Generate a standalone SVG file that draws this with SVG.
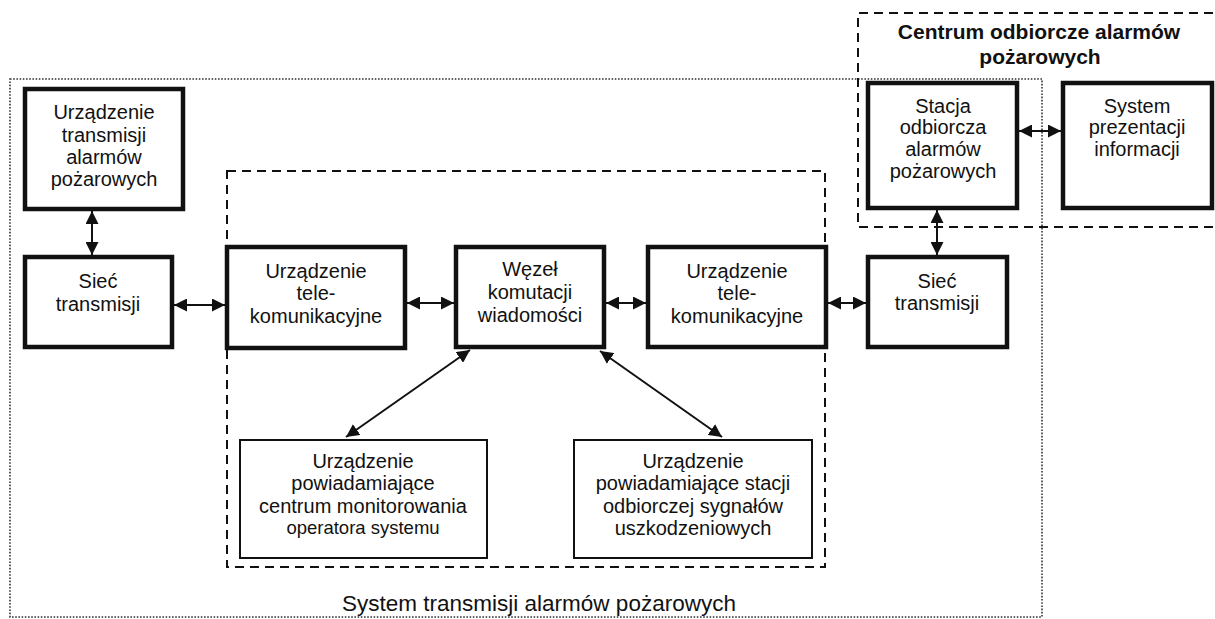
<svg xmlns="http://www.w3.org/2000/svg" width="1215" height="619" viewBox="0 0 1215 619">
<defs>
<style>
.heavy{fill:#fff;stroke:#111;stroke-width:4.5}
.light{fill:#fff;stroke:#111;stroke-width:2}
.t{font-family:"Liberation Sans",Arial,sans-serif;font-size:20px;fill:#111;text-anchor:middle}
.ts{font-size:18.5px}
.tb{font-weight:bold;font-size:21px}
.tl{font-size:22.5px}
.dash{fill:none;stroke:#111;stroke-width:2;stroke-dasharray:9 6}
.dot{fill:none;stroke:#333;stroke-width:1.6;stroke-dasharray:1.6 1.6}
.conn{stroke:#111;stroke-width:2;fill:none;marker-start:url(#ah);marker-end:url(#ah)}
</style>
<marker id="ah" viewBox="0 0 10 10" refX="10" refY="5" markerUnits="userSpaceOnUse" markerWidth="13" markerHeight="13" orient="auto-start-reverse">
<path d="M0,0 L10,5 L0,10 z" fill="#111"/>
</marker>
</defs>
<rect width="1215" height="619" fill="#fff"/>

<g id="frames">
<rect class="dot" x="10" y="79" width="1032" height="538"/>
<rect class="dash" x="227" y="171" width="598" height="396"/>
<path class="dash" d="M1213,13 H858 V227 H1213"/>
</g>

<g id="connectors">
<line class="conn" x1="92" y1="211" x2="92" y2="255"/>
<line class="conn" x1="174" y1="305" x2="225" y2="305"/>
<line class="conn" x1="407" y1="303" x2="454" y2="303"/>
<line class="conn" x1="606" y1="303" x2="646" y2="303"/>
<line class="conn" x1="828" y1="303" x2="866" y2="303"/>
<line class="conn" x1="937" y1="210" x2="937" y2="255"/>
<line class="conn" x1="1019" y1="131" x2="1061" y2="131"/>
<line class="conn" x1="470" y1="350" x2="346" y2="437"/>
<line class="conn" x1="600" y1="351" x2="722" y2="437"/>
</g>

<g id="n-uta">
<rect class="heavy" x="25" y="89" width="158" height="120"/>
<text class="t" x="104" y="119">Urządzenie</text>
<text class="t" x="104" y="142">transmisji</text>
<text class="t" x="104" y="164">alarmów</text>
<text class="t" x="104" y="186">pożarowych</text>
</g>

<g id="n-siec1">
<rect class="heavy" x="25" y="257" width="147" height="90"/>
<text class="t" x="98" y="288">Sieć</text>
<text class="t" x="98" y="311">transmisji</text>
</g>

<g id="n-tele1">
<rect class="heavy" x="227" y="247" width="178" height="101"/>
<text class="t" x="316" y="278">Urządzenie</text>
<text class="t" x="316" y="300">tele-</text>
<text class="t" x="316" y="323">komunikacyjne</text>
</g>

<g id="n-wezel">
<rect class="heavy" x="456" y="247" width="148" height="100"/>
<text class="t" x="530" y="276">Węzeł</text>
<text class="t" x="530" y="299">komutacji</text>
<text class="t" x="530" y="322">wiadomości</text>
</g>

<g id="n-tele2">
<rect class="heavy" x="648" y="247" width="178" height="100"/>
<text class="t" x="737" y="278">Urządzenie</text>
<text class="t" x="737" y="300">tele-</text>
<text class="t" x="737" y="323">komunikacyjne</text>
</g>

<g id="n-siec2">
<rect class="heavy" x="868" y="257" width="139" height="90"/>
<text class="t" x="937" y="288">Sieć</text>
<text class="t" x="937" y="310">transmisji</text>
</g>

<g id="n-stacja">
<rect class="heavy" x="868" y="83" width="149" height="125"/>
<text class="t" x="943" y="113">Stacja</text>
<text class="t" x="943" y="134">odbiorcza</text>
<text class="t" x="943" y="156">alarmów</text>
<text class="t" x="943" y="178">pożarowych</text>
</g>

<g id="n-system">
<rect class="heavy" x="1063" y="83" width="149" height="125"/>
<text class="t" x="1137" y="113">System</text>
<text class="t" x="1137" y="134">prezentacji</text>
<text class="t" x="1137" y="156">informacji</text>
</g>

<g id="n-pow1">
<rect class="light" x="240" y="440" width="247" height="118"/>
<text class="t" x="363" y="468">Urządzenie</text>
<text class="t" x="363" y="490">powiadamiające</text>
<text class="t" x="363" y="513">centrum monitorowania</text>
<text class="t ts" x="363" y="534">operatora systemu</text>
</g>

<g id="n-pow2">
<rect class="light" x="574" y="440" width="238" height="118"/>
<text class="t" x="693" y="468">Urządzenie</text>
<text class="t" x="693" y="490">powiadamiające stacji</text>
<text class="t" x="693" y="513">odbiorczej sygnałów</text>
<text class="t" x="693" y="535">uszkodzeniowych</text>
</g>

<g id="labels">
<text class="t tb" x="1039" y="39">Centrum odbiorcze alarmów</text>
<text class="t tb" x="1040" y="64">pożarowych</text>
<text class="t tl" x="539" y="611">System transmisji alarmów pożarowych</text>
</g>
</svg>
